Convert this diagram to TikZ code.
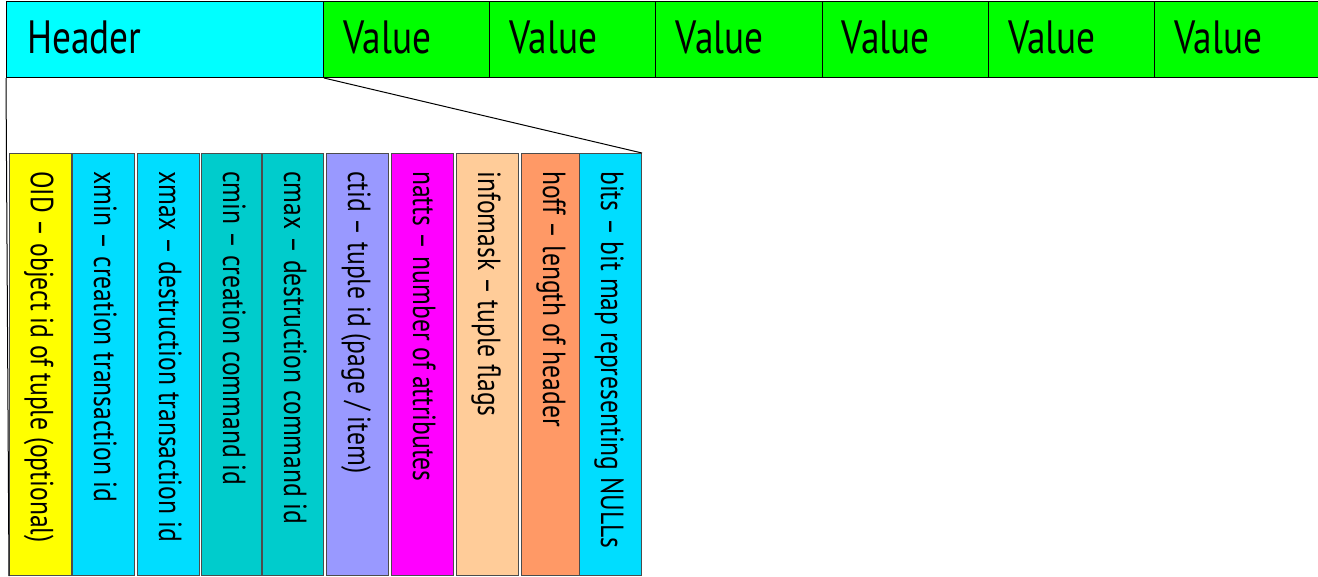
\documentclass[tikz,border=0pt]{standalone}
\usepackage{fontspec}
\setmainfont{PT Sans}[FakeStretch=0.8]
\definecolor{hcyan}{HTML}{00FFFF}
\definecolor{vgreen}{HTML}{00FF00}
\definecolor{fyellow}{HTML}{FFFF00}
\definecolor{fcyan}{HTML}{00DDFF}
\definecolor{fteal}{HTML}{00CCCC}
\definecolor{flav}{HTML}{9999FF}
\definecolor{fmag}{HTML}{FF00FF}
\definecolor{fpeach}{HTML}{FFCC99}
\definecolor{forange}{HTML}{FF9966}
\tikzset{
  topbox/.style={draw=black, line width=0.75pt, anchor=north west, inner sep=0pt, minimum height=57pt},
  hdrbox/.style={topbox, fill=hcyan, minimum width=237.75pt},
  valbox/.style={topbox, fill=vgreen, minimum width=124.65pt},
  toptext/.style={anchor=base west, inner sep=0pt, font=\fontsize{35}{40}\selectfont},
  fieldbox/.style={draw=black!70, line width=0.75pt, anchor=north west, inner sep=0pt, minimum height=316.5pt},
  fieldtext/.style={rotate=-90, anchor=base west, inner sep=0pt, font=\fontsize{24}{28}\selectfont},
  link/.style={draw=black, line width=0.75pt}
}
\begin{document}
\begin{tikzpicture}[x=0.75pt,y=-0.75pt]
\useasboundingbox (0,0) rectangle (1318,576);
% top row
\node[hdrbox] (hdr) at (6,1) {};
\node[toptext] (thdr) at (27,53) {Header};
\foreach \i/\x in {1/323,2/489.2,3/655.4,4/821.6,5/987.8,6/1154} {
  \node[valbox] (v\i) at (\x,1) {};
  \node[toptext] (tv\i) at (\x+20,53) {Value};
}
% fields
\foreach \i/\l/\w/\c/\t in {
  1/9/62/fyellow/{OID – object id of tuple (optional)},
  2/72/62/fcyan/{xmin – creation transaction id},
  3/137/62/fcyan/{xmax – destruction transaction id},
  4/201/60/fteal/{cmin – creation command id},
  5/262/61/fteal/{cmax – destruction command id},
  6/326/62/flav/{ctid – tuple id (page / item)},
  7/391/62/fmag/{natts – number of attributes},
  8/456/62/fpeach/{infomask – tuple flags},
  9/521/58/forange/{hoff – length of header},
  10/579/62/fcyan/{bits – bit map representing NULLs}} {
  \node[fieldbox, fill=\c, minimum width=\w*0.75pt] (f\i) at (\l,153) {};
  \node[fieldtext] (t\i) at (\l+22,171) {\t};
}
\draw[link] (hdr.south west) -- (f1.south west);
\draw[link] (hdr.south east) -- (f10.north east);
\end{tikzpicture}
\end{document}
